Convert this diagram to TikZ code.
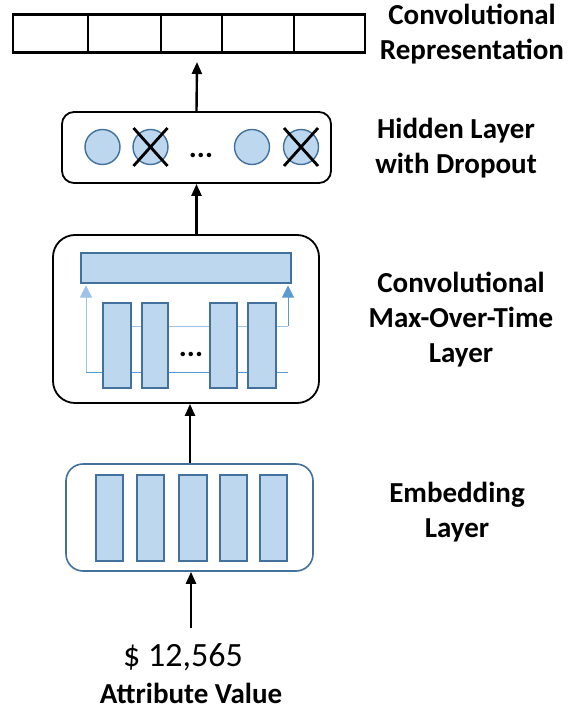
\documentclass[tikz,border=0pt]{standalone}
\usepackage{fontspec}
\setmainfont{Carlito}
\usetikzlibrary{arrows.meta,calc}
\definecolor{fillblue}{HTML}{BDD7EE}
\definecolor{edgeblue}{HTML}{41719C}
\definecolor{lineblue}{HTML}{5B9BD5}
\definecolor{paleblue}{HTML}{9DC3E6}
\tikzset{
  flowarrow/.style={line width=2.4pt,-{Triangle[length=12pt,width=10pt]}},
  layerbox/.style={draw=black,line width=1.8pt,rounded corners=#1,inner sep=0pt},
  unitbar/.style={draw=edgeblue,fill=fillblue,line width=1.4pt},
  unitcircle/.style={circle,draw=edgeblue,fill=fillblue,line width=1.4pt,minimum size=35pt,inner sep=0pt},
  dropx/.style={line width=2.8pt,black},
  lbl/.style={align=center,font=\fontsize{29}{35}\selectfont\bfseries},
  thinline/.style={draw=lineblue,line width=1pt},
  innerarrow/.style={thinline,-{Triangle[length=12pt,width=12pt]}},
  dotsstyle/.style={font=\fontsize{30}{30}\selectfont\bfseries,inner sep=0pt},
}
\begin{document}
\begin{tikzpicture}[x=1pt,y=-1pt]
\useasboundingbox (0,0) rectangle (578,711);
% convolutional representation
\node[draw=black,line width=2.8pt,minimum width=352pt,minimum height=38pt,inner sep=0pt] (rep) at (189,33.5) {};
\foreach \xx in {88,161,222,294}
  \draw[line width=2.8pt] (\xx,14.5) -- (\xx,52.5);
\node[lbl] (replbl) at (472,34) {Convolutional\\Representation};
% hidden layer
\node[layerbox=12pt,minimum width=269pt,minimum height=71pt] (hid) at (196.5,147.5) {};
\node[unitcircle] (c1) at (102.5,147) {};
\node[unitcircle] (c2) at (150.5,147) {};
\node[unitcircle] (c3) at (252,147) {};
\node[unitcircle] (c4) at (301,147) {};
\foreach \cc in {c2,c4} {
  \draw[dropx] ($(\cc)+(-17,-19)$) -- ($(\cc)+(17,19)$);
  \draw[dropx] ($(\cc)+(17,-19)$) -- ($(\cc)+(-17,19)$);
}
\node[dotsstyle,anchor=base] (hdots) at (201,158) {...};
\node[lbl] (hidlbl) at (456,148) {Hidden Layer\\with Dropout};
% conv max-over-time layer
\node[layerbox=22pt,minimum width=266pt,minimum height=168pt] (conv) at (186,319) {};
\coordinate (lbot) at (86,372);
\coordinate (rbot) at (288,372);
\coordinate (lup) at (102,326);
\coordinate (rup) at (288,326);
\node[unitbar,minimum width=210pt,minimum height=30pt,inner sep=0pt] (pool) at (186,268) {};
\coordinate (ltip) at (86,285.5);
\coordinate (rtip) at (288,285.5);
\draw[thinline,draw=paleblue] (lup) -- (rup);
\draw[thinline] (rbot) -- (lbot);
\draw[innerarrow,draw=paleblue,fill=lineblue] (lbot) -- (ltip);
\draw[innerarrow,fill=lineblue] (rup) -- (rtip);
\foreach \xa/\xb/\nm in {103/131/f1,142/168/f2,210/237/f3,248/276/f4}
  \draw[unitbar] (\xa,303) rectangle (\xb,388);
\node[dotsstyle,anchor=base] (cdots) at (191,356) {...};
\node[lbl] (convlbl) at (461,320) {Convolutional\\Max-Over-Time\\Layer};
% embedding layer
\node[draw=edgeblue,line width=1.6pt,rounded corners=17pt,minimum width=247pt,minimum height=107pt,inner sep=0pt] (emb) at (189.5,517.5) {};
\foreach \xa/\xb in {96/123,137/164,179/207,220/247,260/287}
  \draw[unitbar] (\xa,475) rectangle (\xb,561);
\node[lbl] (emblbl) at (457,512) {Embedding\\Layer};
% input
\node[font=\fontsize{34}{34}\selectfont] (val) at (183,657) {\$ 12,565};
\node[font=\fontsize{29}{35}\selectfont\bfseries,anchor=base,inner sep=0pt] (attr) at (191,703) {Attribute Value};
\coordinate (inbase) at (191,628);
\coordinate (reptip) at (197,62);
% arrows
\draw[flowarrow] (inbase) -- (inbase |- emb.south);
\draw[flowarrow] (conv.north -| hid.south) -- (hid.south);
\draw[flowarrow] (emb.north -| 190,0) -- (conv.south -| 190,0);
\draw[flowarrow] (hid.north) -- (reptip);
\end{tikzpicture}
\end{document}
